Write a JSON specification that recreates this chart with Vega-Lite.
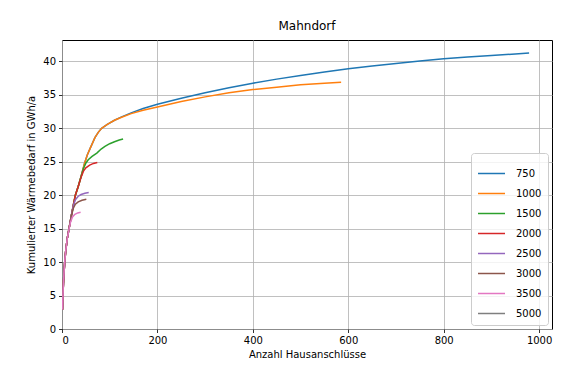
{
  "$schema": "https://vega.github.io/schema/vega-lite/v6.json",
  "autosize": "none",
  "width": 490,
  "height": 289,
  "padding": {"left": 62, "top": 40, "right": 18, "bottom": 51},
  "background": "white",
  "config": {
    "font": "DejaVu Sans",
    "view": {"stroke": "black", "strokeWidth": 1},
    "axis": {
      "domain": false,
      "gridColor": "#b0b0b0",
      "gridWidth": 0.8,
      "tickColor": "black",
      "tickSize": 3.5,
      "tickWidth": 0.8,
      "labelFontSize": 10,
      "labelColor": "black",
      "labelPadding": 3,
      "titleFontSize": 10,
      "titleFontWeight": "normal",
      "titleColor": "black"
    }
  },
  "title": {"text": "Mahndorf", "fontSize": 12, "fontWeight": "normal", "font": "DejaVu Sans", "color": "black", "offset": 7},
  "data": {
    "values": [
      {"n": 1, "q": 2.9, "s": "750"}, {"n": 2, "q": 5.0, "s": "750"}, {"n": 3, "q": 6.8, "s": "750"}, {"n": 4, "q": 8.2, "s": "750"}, {"n": 6, "q": 10.3, "s": "750"}, {"n": 8, "q": 11.8, "s": "750"}, {"n": 11, "q": 13.5, "s": "750"}, {"n": 15, "q": 15.1, "s": "750"}, {"n": 20, "q": 17.1, "s": "750"}, {"n": 24, "q": 18.6, "s": "750"}, {"n": 28, "q": 20.0, "s": "750"}, {"n": 34, "q": 21.3, "s": "750"}, {"n": 40, "q": 22.8, "s": "750"}, {"n": 47, "q": 24.7, "s": "750"}, {"n": 53, "q": 26.0, "s": "750"}, {"n": 59, "q": 27.0, "s": "750"}, {"n": 69, "q": 28.6, "s": "750"}, {"n": 76, "q": 29.4, "s": "750"}, {"n": 83, "q": 30.0, "s": "750"}, {"n": 95, "q": 30.6, "s": "750"}, {"n": 110, "q": 31.2, "s": "750"}, {"n": 125, "q": 31.7, "s": "750"}, {"n": 145, "q": 32.3, "s": "750"}, {"n": 170, "q": 32.95, "s": "750"}, {"n": 200, "q": 33.6, "s": "750"}, {"n": 250, "q": 34.5, "s": "750"}, {"n": 300, "q": 35.3, "s": "750"}, {"n": 350, "q": 36.05, "s": "750"}, {"n": 400, "q": 36.75, "s": "750"}, {"n": 450, "q": 37.35, "s": "750"}, {"n": 500, "q": 37.9, "s": "750"}, {"n": 550, "q": 38.4, "s": "750"}, {"n": 600, "q": 38.9, "s": "750"}, {"n": 650, "q": 39.3, "s": "750"}, {"n": 700, "q": 39.7, "s": "750"}, {"n": 750, "q": 40.05, "s": "750"}, {"n": 800, "q": 40.4, "s": "750"}, {"n": 850, "q": 40.65, "s": "750"}, {"n": 900, "q": 40.9, "s": "750"}, {"n": 950, "q": 41.1, "s": "750"}, {"n": 979, "q": 41.25, "s": "750"},

      {"n": 1, "q": 2.9, "s": "1000"}, {"n": 2, "q": 5.0, "s": "1000"}, {"n": 3, "q": 6.8, "s": "1000"}, {"n": 4, "q": 8.2, "s": "1000"}, {"n": 6, "q": 10.3, "s": "1000"}, {"n": 8, "q": 11.8, "s": "1000"}, {"n": 11, "q": 13.5, "s": "1000"}, {"n": 15, "q": 15.1, "s": "1000"}, {"n": 20, "q": 17.1, "s": "1000"}, {"n": 24, "q": 18.6, "s": "1000"}, {"n": 28, "q": 20.0, "s": "1000"}, {"n": 34, "q": 21.3, "s": "1000"}, {"n": 40, "q": 22.8, "s": "1000"}, {"n": 47, "q": 24.7, "s": "1000"}, {"n": 53, "q": 26.0, "s": "1000"}, {"n": 59, "q": 27.0, "s": "1000"}, {"n": 69, "q": 28.6, "s": "1000"}, {"n": 76, "q": 29.4, "s": "1000"}, {"n": 83, "q": 30.0, "s": "1000"}, {"n": 95, "q": 30.6, "s": "1000"}, {"n": 110, "q": 31.2, "s": "1000"}, {"n": 125, "q": 31.65, "s": "1000"}, {"n": 145, "q": 32.2, "s": "1000"}, {"n": 170, "q": 32.7, "s": "1000"}, {"n": 200, "q": 33.2, "s": "1000"}, {"n": 250, "q": 34.0, "s": "1000"}, {"n": 300, "q": 34.7, "s": "1000"}, {"n": 350, "q": 35.3, "s": "1000"}, {"n": 400, "q": 35.8, "s": "1000"}, {"n": 450, "q": 36.15, "s": "1000"}, {"n": 500, "q": 36.5, "s": "1000"}, {"n": 550, "q": 36.75, "s": "1000"}, {"n": 585, "q": 36.9, "s": "1000"},

      {"n": 1, "q": 2.9, "s": "1500"}, {"n": 2, "q": 5.0, "s": "1500"}, {"n": 3, "q": 6.8, "s": "1500"}, {"n": 4, "q": 8.2, "s": "1500"}, {"n": 6, "q": 10.3, "s": "1500"}, {"n": 8, "q": 11.8, "s": "1500"}, {"n": 11, "q": 13.5, "s": "1500"}, {"n": 15, "q": 15.1, "s": "1500"}, {"n": 20, "q": 17.1, "s": "1500"}, {"n": 24, "q": 18.6, "s": "1500"}, {"n": 28, "q": 20.0, "s": "1500"}, {"n": 34, "q": 21.3, "s": "1500"}, {"n": 40, "q": 22.8, "s": "1500"}, {"n": 45, "q": 24.0, "s": "1500"}, {"n": 50, "q": 24.8, "s": "1500"}, {"n": 55, "q": 25.3, "s": "1500"}, {"n": 63, "q": 25.8, "s": "1500"}, {"n": 73, "q": 26.3, "s": "1500"}, {"n": 82, "q": 26.9, "s": "1500"}, {"n": 90, "q": 27.3, "s": "1500"}, {"n": 100, "q": 27.7, "s": "1500"}, {"n": 110, "q": 28.0, "s": "1500"}, {"n": 120, "q": 28.25, "s": "1500"}, {"n": 128, "q": 28.4, "s": "1500"},

      {"n": 1, "q": 2.9, "s": "2000"}, {"n": 2, "q": 5.0, "s": "2000"}, {"n": 3, "q": 6.8, "s": "2000"}, {"n": 4, "q": 8.2, "s": "2000"}, {"n": 6, "q": 10.3, "s": "2000"}, {"n": 8, "q": 11.8, "s": "2000"}, {"n": 11, "q": 13.5, "s": "2000"}, {"n": 15, "q": 15.1, "s": "2000"}, {"n": 20, "q": 17.1, "s": "2000"}, {"n": 24, "q": 18.6, "s": "2000"}, {"n": 28, "q": 20.0, "s": "2000"}, {"n": 34, "q": 21.3, "s": "2000"}, {"n": 40, "q": 22.7, "s": "2000"}, {"n": 45, "q": 23.6, "s": "2000"}, {"n": 50, "q": 24.1, "s": "2000"}, {"n": 58, "q": 24.5, "s": "2000"}, {"n": 66, "q": 24.75, "s": "2000"}, {"n": 74, "q": 24.9, "s": "2000"},

      {"n": 1, "q": 2.9, "s": "2500"}, {"n": 2, "q": 5.0, "s": "2500"}, {"n": 3, "q": 6.8, "s": "2500"}, {"n": 4, "q": 8.2, "s": "2500"}, {"n": 6, "q": 10.3, "s": "2500"}, {"n": 8, "q": 11.8, "s": "2500"}, {"n": 11, "q": 13.5, "s": "2500"}, {"n": 15, "q": 15.1, "s": "2500"}, {"n": 20, "q": 17.1, "s": "2500"}, {"n": 24, "q": 18.5, "s": "2500"}, {"n": 28, "q": 19.3, "s": "2500"}, {"n": 34, "q": 19.85, "s": "2500"}, {"n": 40, "q": 20.1, "s": "2500"}, {"n": 48, "q": 20.3, "s": "2500"}, {"n": 56, "q": 20.4, "s": "2500"},

      {"n": 1, "q": 2.9, "s": "3000"}, {"n": 2, "q": 5.0, "s": "3000"}, {"n": 3, "q": 6.8, "s": "3000"}, {"n": 4, "q": 8.2, "s": "3000"}, {"n": 6, "q": 10.3, "s": "3000"}, {"n": 8, "q": 11.8, "s": "3000"}, {"n": 11, "q": 13.5, "s": "3000"}, {"n": 15, "q": 15.1, "s": "3000"}, {"n": 20, "q": 17.0, "s": "3000"}, {"n": 24, "q": 18.1, "s": "3000"}, {"n": 28, "q": 18.65, "s": "3000"}, {"n": 34, "q": 19.0, "s": "3000"}, {"n": 42, "q": 19.25, "s": "3000"}, {"n": 51, "q": 19.4, "s": "3000"},

      {"n": 1, "q": 2.9, "s": "3500"}, {"n": 2, "q": 5.0, "s": "3500"}, {"n": 3, "q": 6.8, "s": "3500"}, {"n": 4, "q": 8.2, "s": "3500"}, {"n": 6, "q": 10.3, "s": "3500"}, {"n": 8, "q": 11.8, "s": "3500"}, {"n": 11, "q": 13.5, "s": "3500"}, {"n": 15, "q": 15.0, "s": "3500"}, {"n": 18, "q": 16.0, "s": "3500"}, {"n": 22, "q": 16.75, "s": "3500"}, {"n": 27, "q": 17.15, "s": "3500"}, {"n": 33, "q": 17.35, "s": "3500"}, {"n": 39, "q": 17.45, "s": "3500"}
    ]
  },
  "mark": {"type": "line", "strokeWidth": 1.5, "clip": true},
  "encoding": {
    "x": {
      "field": "n", "type": "quantitative",
      "scale": {"domain": [0, 1027], "nice": false, "zero": false},
      "axis": {"values": [0, 200, 400, 600, 800, 1000], "format": "d", "title": "Anzahl Hausanschlüsse", "titlePadding": 4}
    },
    "y": {
      "field": "q", "type": "quantitative",
      "scale": {"domain": [0, 43.2], "nice": false},
      "axis": {"values": [0, 5, 10, 15, 20, 25, 30, 35, 40], "title": "Kumulierter Wärmebedarf in GWh/a", "titlePadding": 6}
    },
    "color": {
      "field": "s", "type": "nominal",
      "scale": {
        "domain": ["750", "1000", "1500", "2000", "2500", "3000", "3500", "5000"],
        "range": ["#1f77b4", "#ff7f0e", "#2ca02c", "#d62728", "#9467bd", "#8c564b", "#e377c2", "#7f7f7f"]
      },
      "legend": {
        "title": null,
        "orient": "bottom-right",
        "offset": 4,
        "fillColor": "rgba(255,255,255,0.8)",
        "strokeColor": "#cccccc",
        "cornerRadius": 3,
        "padding": 6,
        "symbolType": "stroke",
        "symbolStrokeWidth": 1.5,
        "symbolSize": 729,
        "labelFontSize": 10,
        "labelColor": "black",
        "labelOffset": 10,
        "rowPadding": 0
      }
    }
  }
}
